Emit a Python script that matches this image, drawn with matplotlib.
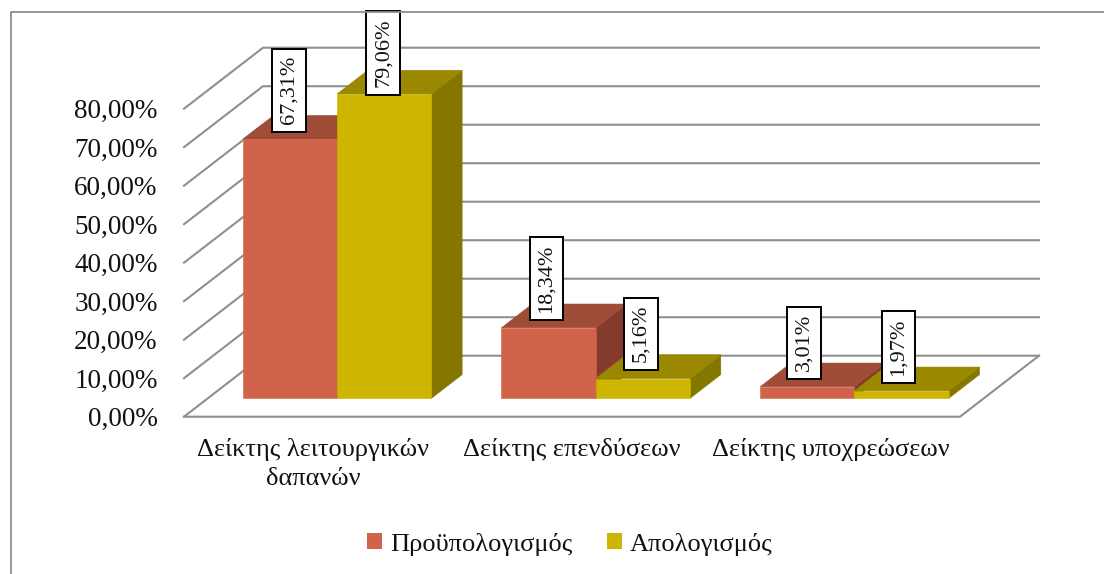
import matplotlib
matplotlib.use("Agg")
import matplotlib.pyplot as plt
from matplotlib.lines import Line2D
from matplotlib.patches import Patch, Polygon

plt.rcParams["font.family"] = ["Liberation Serif", "DejaVu Serif"]

categories = ["Δείκτης λειτουργικών\nδαπανών", "Δείκτης επενδύσεων", "Δείκτης υποχρεώσεων"]
series_names = ["Προϋπολογισμός", "Απολογισμός"]
budget = [67.31, 18.34, 3.01]
actual = [79.06, 5.16, 1.97]
y_ticks = [0, 10, 20, 30, 40, 50, 60, 70, 80]

W, H = 1104, 574
GRID = "#8F8F8F"
# (front, top, side) for each series
SHADES = [("#D0634A", "#A04D38", "#843B2C"), ("#CDB500", "#9A8800", "#857600")]
BAR_W = 0.3645
DX, DY = 0.3054, 15.84          # full floor depth, in data units
D0, D1 = 0.30, 0.69             # bars occupy this slice of the depth
# pixel shifts of the value boxes from the top centre of each bar's front
LABEL_SHIFT = [[(-1, 49), (-1, 41)], [(-2, 49), (-2, 45)], [(-3, 44), (-3, 44)]]


def proj(x, y, d):
    return x + d * DX, y + d * DY


def draw_bar(ax, x, v, shades):
    x0, x1 = x, x + BAR_W
    front = [proj(x0, 0, D0), proj(x1, 0, D0), proj(x1, v, D0), proj(x0, v, D0)]
    top = [proj(x0, v, D0), proj(x1, v, D0), proj(x1, v, D1), proj(x0, v, D1)]
    side = [proj(x1, 0, D0), proj(x1, 0, D1), proj(x1, v, D1), proj(x1, v, D0)]
    for pts, col in zip((side, top, front), (shades[2], shades[1], shades[0])):
        ax.add_patch(Polygon(pts, closed=True, fc=col, ec=col, lw=0.4, zorder=3, clip_on=False))


fig = plt.figure(figsize=(W / 100, H / 100), dpi=100)
ax = fig.add_axes([184 / W, (H - 416.7) / H, 776 / W, 308 / H])
ax.set_xlim(-0.5, 2.5)
ax.set_ylim(0, 80)
for s in ax.spines.values():
    s.set_visible(False)

ax.set_yticks(y_ticks)
ax.set_yticklabels([f"{t:.2f}%".replace(".", ",") for t in y_ticks], fontsize=19.5, color="#111111")
ax.set_xticks(range(len(categories)))
ax.set_xticklabels(categories, fontsize=19, color="#111111", linespacing=1.42)
ax.tick_params(axis="y", length=0, pad=19)
ax.tick_params(axis="x", length=0, pad=15)

# walls and floor
xl, xr = ax.get_xlim()
for t in y_ticks:
    bx, by = proj(xl, t, 1)
    ax.plot([xl, bx, proj(xr, t, 1)[0]], [t, by, by], color=GRID, lw=1.5, zorder=1,
            clip_on=False, solid_joinstyle="miter")
ax.plot([xl, xr, proj(xr, 0, 1)[0]], [0, 0, DY], color=GRID, lw=1.5, zorder=1,
        clip_on=False, solid_joinstyle="miter")

# bars, then their value boxes on top
for i in range(len(categories)):
    for j, vals in enumerate((budget, actual)):
        x = i - BAR_W + j * BAR_W
        draw_bar(ax, x, vals[i], SHADES[j])
        px, py = proj(x + BAR_W / 2, vals[i], D0)
        ax.annotate(f"{vals[i]:.2f}%".replace(".", ","), xy=(px, py),
                    xytext=LABEL_SHIFT[i][j], textcoords="offset pixels",
                    rotation=90, ha="center", va="center", fontsize=16, color="#111111",
                    zorder=6, annotation_clip=False,
                    bbox=dict(boxstyle="square,pad=0.33", fc="white", ec="black", lw=1.4))

handles = [Patch(fc=SHADES[0][0], ec="none"), Patch(fc=SHADES[1][0], ec="none")]
fig.legend(handles, series_names, loc="center", bbox_to_anchor=(570 / W, (H - 544) / H),
           ncol=2, frameon=False, fontsize=19, handlelength=0.57, handleheight=0.57,
           handletextpad=0.3, columnspacing=1.3, labelcolor="#111111")

# outer chart border (open towards the right and bottom)
fig.add_artist(Line2D([10.5 / W, 10.5 / W, 1], [0, (H - 11.5) / H, (H - 11.5) / H],
                      color="#8E8E8E", lw=1.3))

fig.savefig("out.png", dpi=100)
